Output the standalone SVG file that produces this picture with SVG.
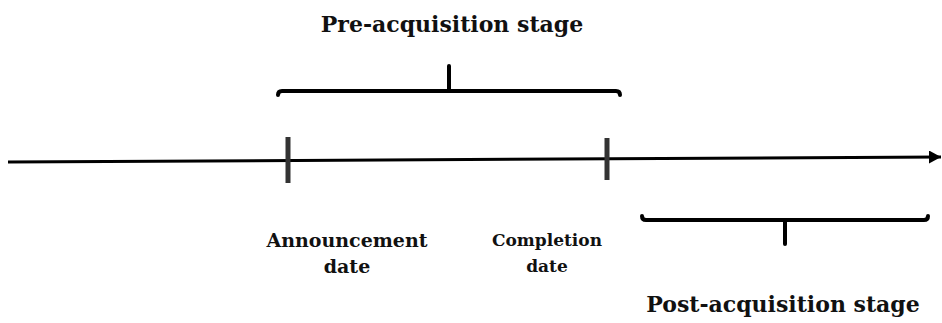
<svg xmlns="http://www.w3.org/2000/svg" width="942" height="323" viewBox="0 0 942 323">
<style>
text{font-family:'DejaVu Serif','Liberation Serif',serif;font-weight:700;fill:#111;text-anchor:middle}
.br{fill:none;stroke:#000;stroke-width:4;stroke-linecap:round;stroke-linejoin:round}
.tick{stroke:#333;stroke-width:5}
</style>
<defs>
<marker id="ah" markerWidth="14" markerHeight="14" refX="12" refY="6.5" orient="auto" markerUnits="userSpaceOnUse">
<path d="M0,0 L12,6.5 L0,13 z" fill="#000"/>
</marker>
</defs>
<g id="connectors">
<line x1="8" y1="162" x2="941" y2="157" stroke="#000" stroke-width="3" marker-end="url(#ah)"/>
</g>
<g id="announcement">
<line class="tick" x1="288" y1="137" x2="288" y2="183"/>
<text x="347" y="247" font-size="19">Announcement</text>
<text x="347" y="273" font-size="19">date</text>
</g>
<g id="completion">
<line class="tick" x1="607" y1="138" x2="607" y2="180"/>
<text x="547" y="246" font-size="17">Completion</text>
<text x="547" y="272" font-size="17">date</text>
</g>
<g id="pre">
<path class="br" d="M278,95 Q278,91 282,91 L616,91 Q620,91 620,95"/>
<line class="br" x1="449" y1="66" x2="449" y2="91"/>
<text x="452" y="32" font-size="22">Pre-acquisition stage</text>
</g>
<g id="post">
<path class="br" d="M642,216 Q642,220 646,220 L924,220 Q928,220 928,216"/>
<line class="br" x1="785" y1="220" x2="785" y2="244"/>
<text x="783" y="312" font-size="22">Post-acquisition stage</text>
</g>
</svg>
